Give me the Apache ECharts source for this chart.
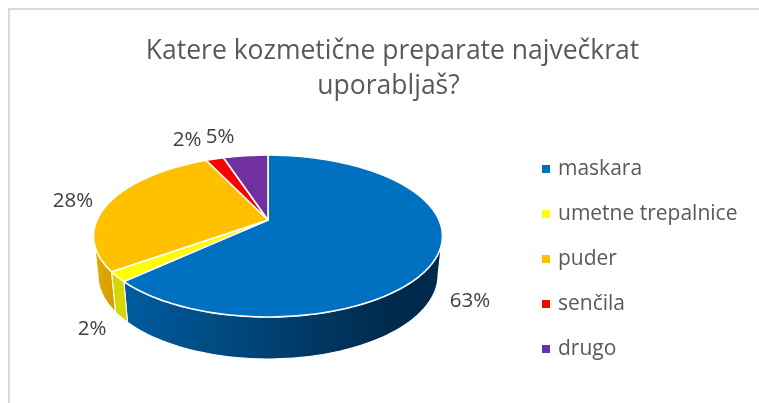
<!DOCTYPE html>
<html><head><meta charset="utf-8">
<style>html,body{margin:0;padding:0;background:#fff}#c{width:759px;height:403px}</style>
<script src="https://cdn.jsdelivr.net/npm/echarts@6/dist/echarts.min.js"></script>
</head><body><div id="c"></div>
<script>
const titleLines = ['Katere kozmetične preparate največkrat', 'uporabljaš?'];
const categories = ['maskara', 'umetne trepalnice', 'puder', 'senčila', 'drugo'];
const shares = [63, 2, 28, 2, 5];
const percentLabels = ['63%', '2%', '28%', '2%', '5%'];
const topColors = ['#0070c0', '#ffff00', '#ffc000', '#ff0000', '#7030a0'];

// Perspective layout of the tilted disc
const CX = 268, K = 0.1975;
const TOP = {cy: 220, a: 171, b: 77.8};
const BOTTOM = {cy: 258.4, a: 166.7, b: 80.7};
const labelAnchors = [[470, 301], [92, 329], [73, 201], [187, 140], [220, 137]];
const FONT = '"Open Sans"';

function project(plane, deg) {
  const t = deg * Math.PI / 180, X = Math.sin(t), Y = Math.cos(t), w = 1 + K * Y;
  return [CX + plane.a * X / w, plane.cy - plane.b * Y / w];
}
function arc(plane, from, to) {
  const n = Math.max(2, Math.ceil(Math.abs(to - from) / 1.5)), pts = [];
  for (let i = 0; i <= n; i++) pts.push(project(plane, from + (to - from) * i / n));
  return pts;
}
const total = shares.reduce((s, v) => s + v, 0);
const sideRight = 90 + Math.asin(K) * 180 / Math.PI, sideLeft = 360 - sideRight;
const G = echarts.graphic.LinearGradient;
function sideFill(i) {
  if (i === 0) return new G(125, 0, 440, 0, [
    {offset: 0, color: '#005c9f'}, {offset: 0.55, color: '#003b69'},
    {offset: 0.85, color: '#002a4b'}, {offset: 1, color: '#002a4b'}], true);
  if (i === 1) return '#d6d600';
  return new G(95, 0, 116, 0, [{offset: 0, color: '#e2aa00'}, {offset: 1, color: '#d19d00'}], true);
}
function renderSlice(params, api) {
  const i = params.seriesIndex;
  const before = shares.slice(0, i).reduce((s, v) => s + v, 0);
  const start = before / total * 360, end = (before + api.value(0)) / total * 360;
  const children = [];
  const a = Math.max(start, sideRight), b = Math.min(end, sideLeft);
  if (b > a) {
    children.push({type: 'polygon',
      shape: {points: arc(TOP, a, b).concat(arc(BOTTOM, b, a))},
      style: {fill: sideFill(i), stroke: '#fff', lineWidth: 1.1, lineJoin: 'round'}});
  }
  children.push({type: 'polygon',
    shape: {points: [[CX, TOP.cy]].concat(arc(TOP, start, end))},
    style: {fill: topColors[i], stroke: '#fff', lineWidth: 1.6, lineJoin: 'round'}});
  children.push({type: 'text', z2: 10, style: {
    text: percentLabels[i], x: labelAnchors[i][0], y: labelAnchors[i][1],
    align: 'center', verticalAlign: 'middle', fill: '#404040',
    font: '20.5px ' + FONT}});
  return {type: 'group', children};
}

const chart = echarts.init(document.getElementById('c'), null, {renderer: 'canvas'});
chart.setOption({
  backgroundColor: '#fff',
  animation: false,
  graphic: [{type: 'rect', silent: true, shape: {x: 9, y: 9, width: 900, height: 600},
    style: {fill: 'none', stroke: '#d9d9d9', lineWidth: 2}}],
  title: [
    {text: titleLines[0], left: 387.5, top: 33, textAlign: 'center',
      textStyle: {fontFamily: FONT, fontSize: 26.5, fontWeight: 'normal', color: '#595959'}},
    {text: titleLines[1], left: 383.5, top: 68, textAlign: 'center',
      textStyle: {fontFamily: FONT, fontSize: 26.5, fontWeight: 'normal', color: '#595959'}}
  ],
  legend: {
    orient: 'vertical', left: 542, top: 154, padding: 0, icon: 'rect',
    itemWidth: 8, itemHeight: 8, itemGap: 15, selectedMode: false,
    data: categories,
    textStyle: {fontFamily: FONT, fontSize: 21, color: '#595959', height: 30, lineHeight: 30, padding: [0, 0, 0, 3]}
  },
  series: categories.map((name, i) => ({
    type: 'custom', name, coordinateSystem: 'none', renderItem: renderSlice,
    silent: true, itemStyle: {color: topColors[i]}, data: [[shares[i]]]
  }))
});
</script></body></html>
